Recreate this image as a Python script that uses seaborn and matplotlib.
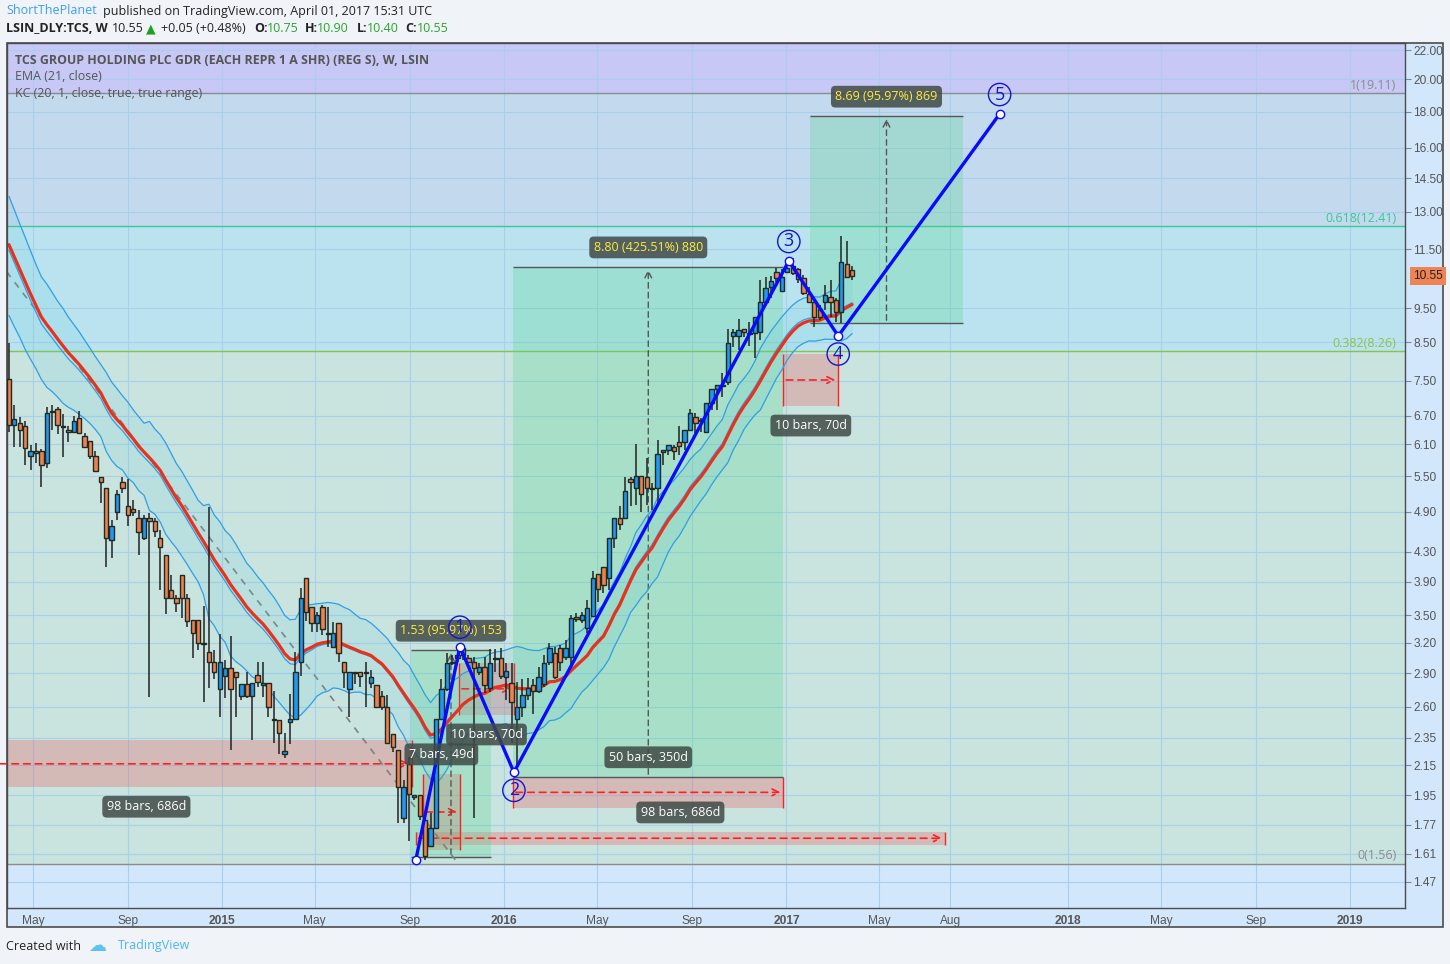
import numpy as np
import pandas as pd
import matplotlib
matplotlib.use("Agg")
import matplotlib.pyplot as plt
from matplotlib.patches import Rectangle
import seaborn as sns

# weekly candles LSIN_DLY:TCS
opens = [7.55, 6.50, 6.54, 6.48, 5.87, 5.97, 5.97, 5.74, 6.78, 6.84,
         6.46, 6.39, 6.35, 6.64, 6.27, 6.17, 5.87, 5.48, 5.30, 4.47,
         4.90, 5.39, 4.99, 4.94, 4.80, 4.50, 4.80, 4.75, 4.50, 4.26,
         3.80, 3.70, 3.99, 3.70, 3.45, 3.45, 3.20, 3.11, 3.01, 2.75,
         2.87, 2.95, 2.91, 2.69, 2.80, 2.69, 2.88, 2.79, 2.81, 2.50,
         2.49, 2.23, 2.47, 2.50, 3.01, 3.95, 3.60, 3.41, 3.60, 3.29,
         3.16, 3.41, 3.01, 2.75, 2.90, 2.91, 2.90, 2.81, 2.79, 2.69,
         2.60, 2.38, 2.26, 1.81, 2.16, 1.94, 1.95, 1.80, 1.65, 1.75,
         2.50, 2.75, 3.00, 3.08, 3.08, 3.05, 3.01, 2.91, 2.96, 2.76,
         3.04, 3.05, 2.86, 2.81, 2.50, 2.60, 2.70, 2.79, 2.74, 2.80,
         3.01, 3.10, 3.15, 3.06, 3.06, 3.48, 3.45, 3.36, 3.49, 4.00,
         4.09, 3.95, 4.50, 4.80, 4.80, 5.45, 5.30, 5.50, 5.48, 5.28,
         5.30, 5.95, 5.99, 6.05, 6.15, 6.15, 6.39, 6.67, 6.58, 6.35,
         6.98, 7.30, 7.38, 7.47, 8.68, 8.68, 8.88, 8.74, 8.77, 8.80,
         9.70, 10.18, 10.69, 10.05, 10.69, 10.90, 10.79, 10.48, 9.95, 9.70,
         9.48, 9.70, 9.85, 9.76, 9.39, 10.97, 10.75]
highs = [8.48, 6.93, 6.67, 6.58, 6.09, 6.13, 6.01, 6.88, 6.93, 6.88,
         6.73, 6.48, 6.69, 6.80, 6.33, 6.17, 5.97, 5.48, 5.30, 4.77,
         5.26, 5.48, 5.45, 5.09, 4.93, 4.85, 4.88, 4.80, 4.62, 4.26,
         3.99, 3.74, 3.99, 3.75, 3.45, 3.45, 3.61, 4.98, 3.13, 3.29,
         3.03, 3.27, 2.91, 2.80, 2.91, 2.81, 3.01, 3.01, 2.81, 2.74,
         2.49, 2.39, 2.71, 3.11, 3.83, 3.95, 3.60, 3.54, 3.62, 3.60,
         3.42, 3.41, 3.01, 2.91, 2.91, 2.91, 3.01, 2.93, 2.79, 2.74,
         2.70, 2.38, 2.26, 2.05, 2.21, 1.95, 1.95, 1.82, 1.84, 2.50,
         2.84, 3.10, 3.08, 3.13, 3.16, 3.08, 3.06, 3.00, 3.06, 3.14,
         3.14, 3.15, 3.00, 3.00, 2.82, 2.84, 2.85, 2.84, 2.96, 3.08,
         3.20, 3.16, 3.18, 3.23, 3.50, 3.52, 3.54, 3.68, 4.04, 4.00,
         4.09, 4.50, 4.80, 4.99, 5.48, 5.48, 6.11, 5.50, 5.84, 5.38,
         6.19, 5.99, 6.09, 6.09, 6.48, 6.39, 6.84, 6.75, 6.64, 6.98,
         7.30, 7.40, 7.70, 8.88, 8.88, 9.17, 8.88, 9.08, 9.23, 10.41,
         10.51, 10.55, 10.83, 10.79, 10.86, 11.18, 10.83, 10.58, 10.18, 9.70,
         9.60, 10.25, 10.41, 9.82, 12.01, 11.82, 10.90]
lows = [6.35, 6.05, 6.05, 5.71, 5.61, 5.74, 5.31, 5.65, 6.39, 6.31,
        5.85, 6.15, 6.33, 6.33, 6.05, 5.82, 5.59, 5.04, 4.09, 4.22,
        4.77, 5.21, 4.68, 4.83, 4.26, 4.47, 2.68, 4.51, 3.80, 3.51,
        3.70, 3.54, 3.47, 3.37, 3.05, 3.13, 2.64, 2.76, 2.84, 2.51,
        2.67, 2.26, 2.51, 2.66, 2.67, 2.33, 2.77, 2.68, 2.51, 2.31,
        2.23, 2.20, 2.30, 2.50, 2.87, 3.44, 3.31, 3.31, 3.28, 3.16,
        3.16, 3.01, 2.76, 2.51, 2.80, 2.77, 2.60, 2.76, 2.60, 2.57,
        2.31, 2.24, 1.78, 1.78, 1.68, 1.92, 1.80, 1.58, 1.65, 1.75,
        2.50, 2.74, 2.98, 3.01, 3.03, 3.01, 1.81, 2.88, 2.72, 2.73,
        2.91, 2.84, 2.66, 2.31, 2.10, 2.51, 2.66, 2.54, 2.72, 2.77,
        2.98, 2.84, 2.92, 3.03, 2.96, 3.42, 3.41, 3.30, 3.49, 3.65,
        3.76, 3.80, 4.36, 4.62, 4.80, 4.99, 5.01, 4.90, 5.01, 4.93,
        5.03, 5.71, 5.89, 5.80, 5.89, 5.99, 6.39, 6.33, 6.35, 6.33,
        6.82, 6.82, 7.12, 7.40, 8.37, 8.29, 8.65, 8.40, 8.08, 8.57,
        9.70, 9.82, 10.35, 10.05, 10.65, 10.58, 10.31, 9.92, 9.67, 8.94,
        9.14, 9.45, 9.23, 9.08, 9.05, 10.58, 10.40]
closes = [6.50, 6.62, 6.39, 6.03, 5.97, 5.93, 5.71, 6.75, 6.80, 6.50,
          6.48, 6.35, 6.58, 6.33, 6.05, 5.87, 5.59, 5.40, 4.50, 4.68,
          5.19, 5.30, 4.85, 4.90, 4.59, 4.80, 4.75, 4.60, 4.37, 3.70,
          3.70, 3.64, 3.70, 3.43, 3.30, 3.20, 3.19, 3.01, 2.91, 3.01,
          2.95, 2.75, 2.86, 2.80, 2.69, 2.81, 2.82, 2.81, 2.60, 2.49,
          2.39, 2.25, 2.50, 2.91, 3.70, 3.54, 3.41, 3.50, 3.35, 3.30,
          3.30, 3.10, 2.91, 2.91, 2.91, 2.87, 2.91, 2.86, 2.60, 2.60,
          2.31, 2.28, 2.00, 2.00, 1.96, 1.95, 1.82, 1.60, 1.75, 2.50,
          2.75, 3.00, 3.01, 3.05, 3.15, 3.01, 2.95, 2.96, 2.79, 3.00,
          3.05, 2.87, 2.92, 2.64, 2.60, 2.70, 2.76, 2.74, 2.86, 3.00,
          3.15, 2.86, 3.01, 3.15, 3.47, 3.46, 3.50, 3.58, 3.95, 3.81,
          3.86, 4.50, 4.80, 4.71, 5.24, 5.40, 5.50, 5.19, 5.30, 5.30,
          5.91, 5.99, 6.09, 5.97, 6.07, 6.39, 6.75, 6.54, 6.60, 6.98,
          7.30, 7.40, 7.40, 8.48, 8.80, 8.85, 8.80, 8.77, 9.23, 9.70,
          10.15, 10.38, 10.48, 10.51, 10.83, 10.65, 10.45, 9.98, 9.70, 9.23,
          9.23, 9.92, 9.70, 9.39, 11.04, 10.50, 10.55]
dates = pd.date_range("2014-03-31", periods=len(closes), freq="7D")

# indicator values just before the first visible bar
ema_seed = 12.2
kc_seed = 12.0
range_seed = 2.2

# Elliott wave count drawn on the chart
wave_labels = ["", "1", "2", "3", "4", "5"]
wave_dates = pd.to_datetime(["2015-09-09", "2015-11-05", "2016-01-14",
                             "2017-01-04", "2017-03-09", "2017-10-04"])
wave_prices = [1.58, 3.16, 2.10, 11.08, 8.68, 17.87]

# fib retracement
fib_levels = [1.56, 8.26, 12.41, 19.11]
fib_names = ["0(1.56)", "0.382(8.26)", "0.618(12.41)", "1(19.11)"]
fib_line_colors = ["#8c8c8c", "#8bc34a", "#3ec796", "#8c8c8c"]
fib_fills = ["#c9e3df", "#bae3ef", "#c3d9ee", "#c7c8f6"]

# price range tools: start, end, low, high, label
price_ranges = [
    ("2015-09-03", "2015-12-15", 1.594, 3.124, "1.53 (95.97%) 153"),
    ("2016-01-13", "2016-12-28", 2.068, 10.868, "8.80 (425.51%) 880"),
    ("2017-02-01", "2017-08-17", 9.055, 17.745, "8.69 (95.97%) 869"),
]
# date range tools: start, end, low, high, label, label side
date_ranges = [
    ("2013-10-16", "2015-09-04", 2.00, 2.33, "98 bars, 686d", "below"),
    ("2015-09-18", "2015-11-05", 1.63, 2.09, "7 bars, 49d", "above"),
    ("2015-11-04", "2016-01-14", 2.53, 3.00, "10 bars, 70d", "below"),
    ("2016-01-13", "2016-12-28", 1.87, 2.07, "50 bars, 350d", "above"),
    ("2015-09-09", "2017-07-25", 1.66, 1.73, "98 bars, 686d", "above"),
    ("2016-12-28", "2017-03-09", 6.91, 8.19, "10 bars, 70d", "below"),
]
# dashed trend line
trend_dates = pd.to_datetime(["2014-03-28", "2015-10-30"])
trend_prices = [10.7, 1.58]

price_ticks = [1.47, 1.61, 1.77, 1.95, 2.15, 2.35, 2.60, 2.90, 3.20, 3.50, 3.90,
               4.30, 4.90, 5.50, 6.10, 6.70, 7.50, 8.50, 9.50, 11.50, 13.00,
               14.50, 16.00, 18.00, 20.00, 22.00]
time_ticks = pd.to_datetime(["2014-05-01", "2014-09-01", "2015-01-01", "2015-05-01",
                             "2015-09-01", "2016-01-01", "2016-05-01", "2016-09-01",
                             "2017-01-01", "2017-05-01", "2017-08-01", "2018-01-01",
                             "2018-05-01", "2018-09-01", "2019-01-01"])
time_names = ["May", "Sep", "2015", "May", "Sep", "2016", "May", "Sep", "2017",
              "May", "Aug", "2018", "May", "Sep", "2019"]


def ema(values, length, seed):
    alpha = 2 / (length + 1)
    out, v = [], seed
    for x in values:
        v = v + alpha * (x - v)
        out.append(v)
    return np.array(out)


c = np.array(closes)
h = np.array(highs)
l = np.array(lows)
o = np.array(opens)
prev_c = np.r_[c[0], c[:-1]]
true_range = np.maximum(h - l, np.maximum(abs(h - prev_c), abs(l - prev_c)))
ema21 = ema(c, 21, ema_seed)
kc_mid = ema(c, 20, kc_seed)
kc_rng = ema(true_range, 20, range_seed)
df = pd.DataFrame({"date": dates, "ema": ema21, "mid": kc_mid,
                   "upper": kc_mid + kc_rng, "lower": kc_mid - kc_rng})

sns.set_theme(style="white")
plt.rcParams["font.family"] = ["Open Sans", "DejaVu Sans"]
narrow = ["Liberation Sans Narrow", "Liberation Sans", "DejaVu Sans"]

W, H = 1450, 964
fx = lambda x: x / W
fy = lambda y: 1 - y / H

fig = plt.figure(figsize=(14.5, 9.64), dpi=100)
fig.patch.set_facecolor("#f0f3f8")
frame = Rectangle((fx(7), fy(927)), fx(1443) - fx(7), fy(43) - fy(927),
                  transform=fig.transFigure, facecolor="#d3e7fc",
                  edgecolor="#4b4b4b", lw=1.2, zorder=-1)
fig.patches.append(frame)

ax = fig.add_axes([fx(7), fy(908), fx(1405) - fx(7), fy(43) - fy(908)])
ax.set_facecolor("#d3e7fc")
ax.set_yscale("log")
ax.set_ylim(1.3506, 22.51)
ax.set_xlim(pd.Timestamp("2014-03-28 12:00"), pd.Timestamp("2019-03-13"))

# fib bands
bounds = fib_levels + [30]
for i in range(len(fib_levels)):
    ax.axhspan(bounds[i], bounds[i + 1], color=fib_fills[i], lw=0, zorder=0.1)
    ax.axhline(fib_levels[i], color=fib_line_colors[i], lw=1, zorder=0.6)
    ax.annotate(fib_names[i], xy=(0.994, fib_levels[i]),
                xycoords=("axes fraction", "data"), xytext=(0, 1),
                textcoords="offset points", ha="right", va="bottom",
                fontsize=9, color=fib_line_colors[i])

# grid
ax.set_yticks(price_ticks)
ax.set_yticklabels([f"{p:.2f}" for p in price_ticks])
ax.minorticks_off()
ax.set_xticks(time_ticks)
ax.set_xticklabels(time_names)
ax.grid(True, color="#a9d0ea", lw=0.8)
ax.set_axisbelow(True)

# date ranges
lab_box = dict(boxstyle="round,pad=0.35", fc="#404a46", ec="none", alpha=0.85)
for s, e, lo, hi, txt, side in date_ranges:
    s, e = pd.Timestamp(s), pd.Timestamp(e)
    ax.add_patch(Rectangle((s, lo), e - s, hi - lo, facecolor="#f05050",
                           alpha=0.28, lw=0, zorder=1))
    ax.vlines([s, e], lo, hi, color="#ff2020", lw=1, zorder=1.1)
    mid = np.sqrt(lo * hi)
    ax.annotate("", xy=(e, mid), xytext=(s, mid),
                arrowprops=dict(arrowstyle="->", color="#ff2020", lw=1.2,
                                linestyle=(0, (4, 3))), zorder=1.2)
    yv, off = (hi, 14) if side == "above" else (lo, -14)
    ax.annotate(txt, xy=(s + (e - s) / 2, yv), xytext=(0, off),
                textcoords="offset points", ha="center", va="center",
                fontsize=9, color="white", bbox=lab_box, zorder=6)

# price ranges
for s, e, lo, hi, txt in price_ranges:
    s, e = pd.Timestamp(s), pd.Timestamp(e)
    ax.add_patch(Rectangle((s, lo), e - s, hi - lo, facecolor="#4fd68a",
                           alpha=0.27, lw=0, zorder=1))
    ax.hlines([lo, hi], s, e, color="#555555", lw=1, zorder=1.1)
    m = s + (e - s) / 2
    ax.annotate("", xy=(m, hi), xytext=(m, lo),
                arrowprops=dict(arrowstyle="->", color="#555555", lw=1,
                                linestyle=(0, (4, 3))), zorder=1.2)
    ax.annotate(txt, xy=(m, hi), xytext=(0, 14), textcoords="offset points",
                ha="center", va="center", fontsize=9, color="#ffeb3b",
                bbox=lab_box, zorder=6)

# trend line
ax.plot(trend_dates, trend_prices, color="#808080", lw=1.2,
        ls=(0, (4, 4)), zorder=1.3)

# Keltner channel + EMA
ax.fill_between(df["date"], df["lower"], df["upper"], color="#4cc3d9",
                alpha=0.12, lw=0, zorder=1.4)
for col in ["upper", "mid", "lower"]:
    sns.lineplot(data=df, x="date", y=col, ax=ax, color="#2f9fe6", lw=0.9,
                 zorder=2)
sns.lineplot(data=df, x="date", y="ema", ax=ax, color="#e8321c", lw=2.3,
             zorder=2.2)

# candles
up = c >= o
ax.vlines(dates, l, h, color="#222222", lw=1.1, zorder=3)
ax.bar(dates, np.maximum(abs(c - o), 0.004), bottom=np.minimum(o, c),
       width=5.6, color=np.where(up, "#2196f3", "#f0804f"),
       edgecolor="#1d2b20", lw=1.0, zorder=3.2)

# wave count
ax.plot(wave_dates, wave_prices, color="#0a0aff", lw=2.4, zorder=4,
        marker="o", ms=6, mfc="white", mec="#0a0aff", mew=1)
for i, lbl in enumerate(wave_labels):
    if not lbl:
        continue
    off = 14 if i % 2 == 1 else -13
    ax.annotate(lbl, xy=(wave_dates[i], wave_prices[i]), xytext=(0, off),
                textcoords="offset points", ha="center", va="center",
                fontsize=13, color="#1515d0", zorder=7,
                bbox=dict(boxstyle="circle,pad=0.12", fc="none",
                          ec="#1515d0", lw=1))

# axes styling
ax.set_xlabel("")
ax.set_ylabel("")
for sp in ax.spines.values():
    sp.set_color("#4b4b4b")
    sp.set_linewidth(1)
ax.yaxis.tick_right()
ax.tick_params(axis="y", which="both", direction="out", length=4, width=0.8,
               color="#7a8a9a", pad=2, labelsize=8.6, labelcolor="#555555")
ax.tick_params(axis="x", direction="out", length=3, width=0.8,
               color="#7a8a9a", pad=2, labelsize=8.6, labelcolor="#555555")
for t in ax.get_yticklabels() + ax.get_xticklabels():
    t.set_family(narrow)
for t in ax.get_xticklabels():
    if t.get_text().isdigit():
        t.set_fontweight("bold")

# last price tag
ax.annotate(f"{closes[-1]:.2f}", xy=(1.0, closes[-1]),
            xycoords=("axes fraction", "data"), xytext=(6, 0),
            textcoords="offset points", ha="left", va="center", fontsize=8.6,
            family=narrow, color="#222222", annotation_clip=False,
            bbox=dict(boxstyle="square,pad=0.25", fc="#ef8354", ec="none"))

# in-chart legend
fig.text(fx(15), fy(60), "TCS GROUP HOLDING PLC GDR (EACH REPR 1 A SHR) (REG S), W, LSIN",
         fontsize=8.9, fontweight="bold", color="#555555", va="center")
fig.text(fx(15), fy(77), "EMA (21, close)", fontsize=8.9, color="#555555", va="center")
fig.text(fx(15), fy(94), "KC (20, 1, close, true, true range)", fontsize=8.9,
         color="#555555", va="center")

# header
green = "#2aa52a"
fig.text(fx(6), fy(11), "ShortThePlanet", fontsize=9, color="#3aa0ee", va="center")
fig.text(fx(103), fy(11), "published on TradingView.com, April 01, 2017 15:31 UTC",
         fontsize=9, color="#222222", va="center")
fig.text(fx(6), fy(29), "LSIN_DLY:TCS, W", fontsize=9, fontweight="bold",
         color="#222222", va="center")
fig.text(fx(112), fy(29), "10.55", fontsize=9, color="#222222", va="center")
fig.text(fx(146), fy(29), "\u25B2", fontsize=9, color="#1fa11f", va="center",
         family=["DejaVu Sans"])
fig.text(fx(161), fy(29), "+0.05 (+0.48%)", fontsize=9, color="#222222", va="center")
for lx, lab, vx, val in [(254, "O:", 267, "10.75"), (305, "H:", 317, "10.90"),
                         (357, "L:", 367, "10.40"), (405, "C:", 417, "10.55")]:
    fig.text(fx(lx), fy(29), lab, fontsize=9, fontweight="bold",
             color="#222222", va="center")
    fig.text(fx(vx), fy(29), val, fontsize=9, color=green, va="center")

# footer
fig.text(fx(6), fy(946), "Created with", fontsize=9, color="#222222", va="center")
fig.text(fx(88), fy(946), "\u2601", fontsize=13, color="#5cc2f0", va="center",
         family=["DejaVu Sans"])
fig.text(fx(118), fy(946), "TradingView", fontsize=9, color="#4bb5f0", va="center")

fig.savefig("out.png", dpi=100, facecolor=fig.get_facecolor())
